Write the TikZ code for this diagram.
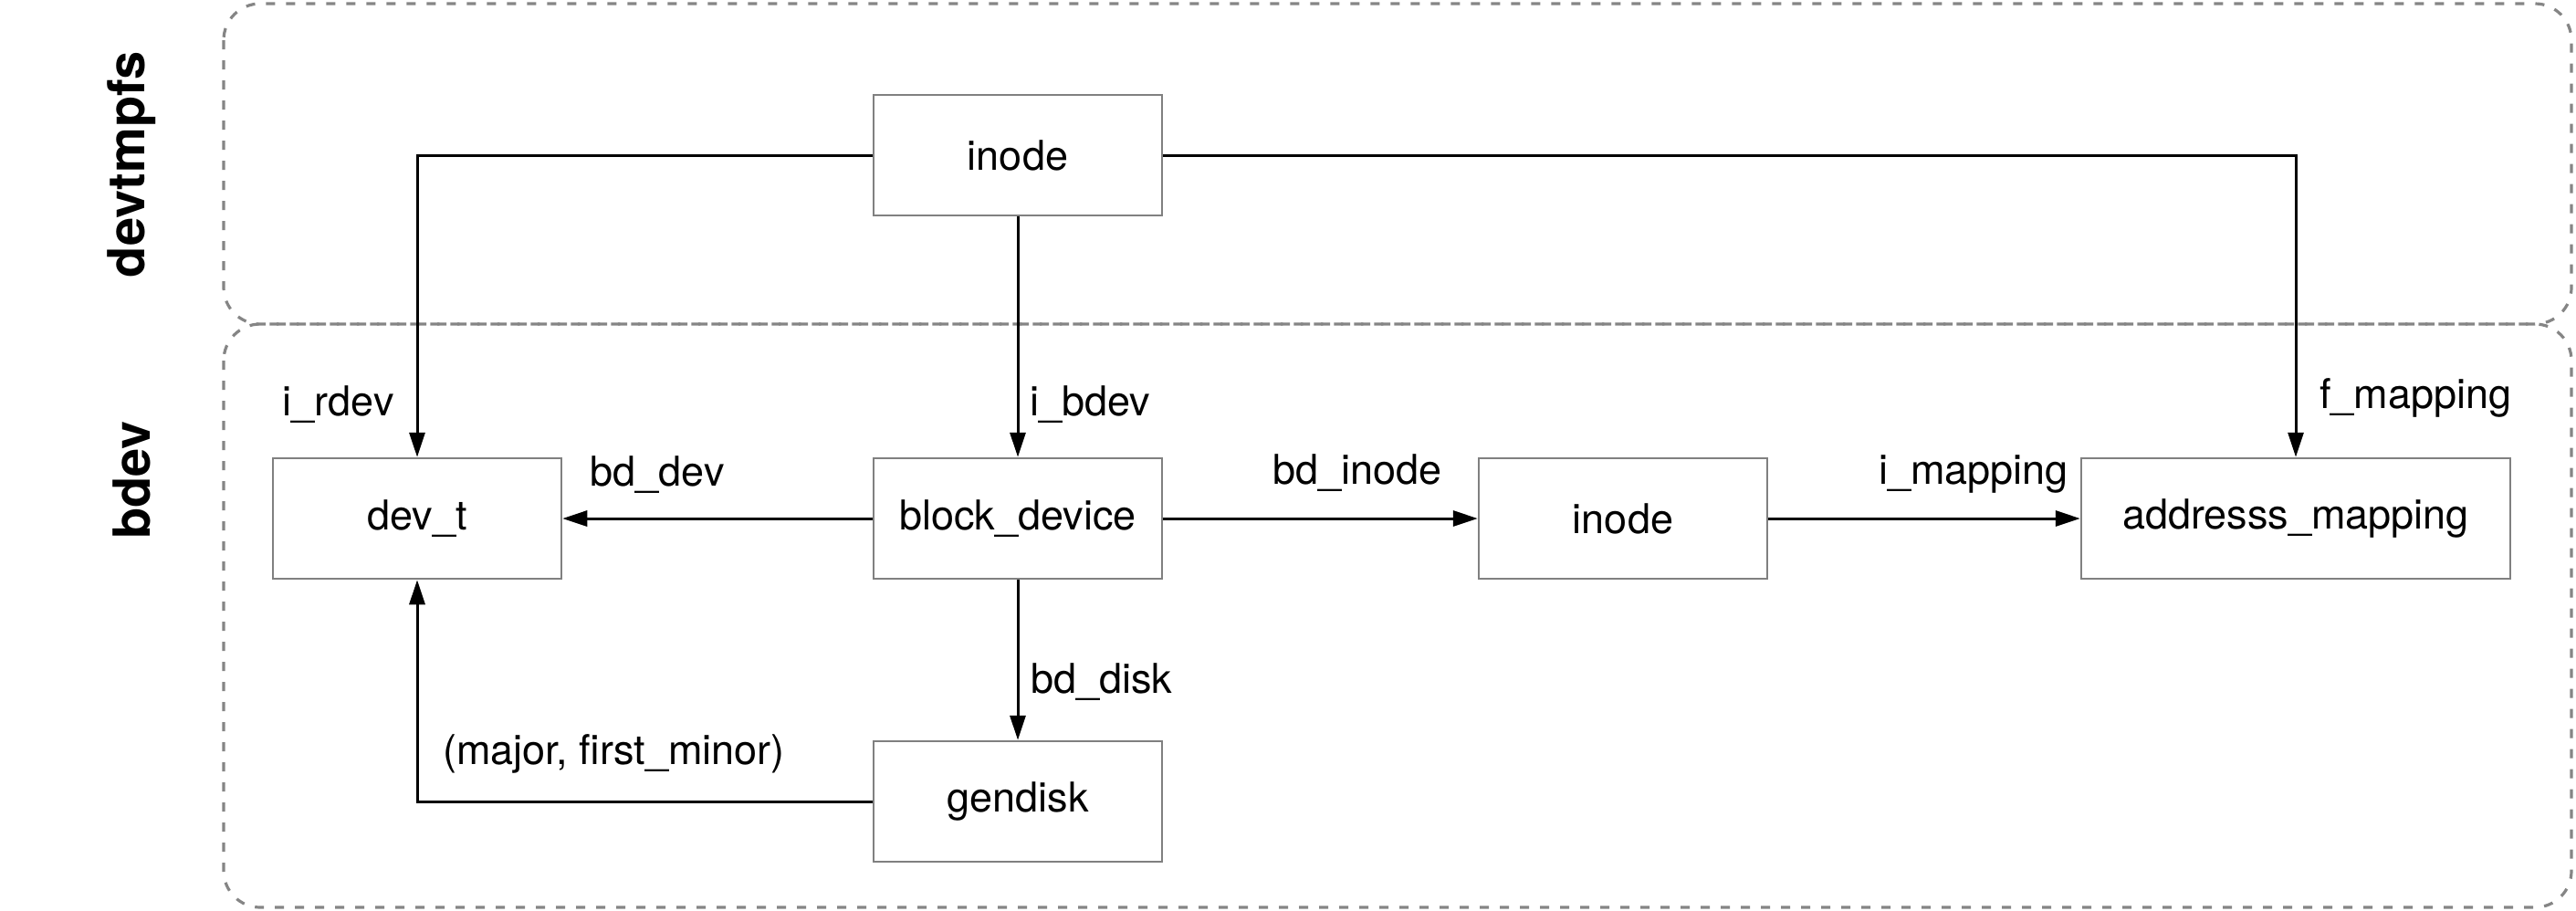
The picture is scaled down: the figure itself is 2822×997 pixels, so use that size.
\documentclass[tikz,border=0pt]{standalone}
\usepackage{fontspec}
\setmainfont{TeX Gyre Heros}
\usetikzlibrary{arrows.meta}
\definecolor{boxgray}{HTML}{808080}
\definecolor{regiongray}{HTML}{858585}
\begin{document}
\begin{tikzpicture}[x=1pt,y=-1pt,
  box/.style={draw=boxgray, line width=2.5pt, minimum width=316pt, minimum height=132pt, inner sep=0pt, font=\fontsize{45}{52}\selectfont},
  lbl/.style={inner sep=0pt, font=\fontsize{45}{52}\selectfont},
  conn/.style={line width=3pt, -{Triangle[length=27pt,width=17pt]}},
  region/.style={draw=regiongray, line width=3.2pt, dash pattern=on 10pt off 12pt, rounded corners=40pt},
  sect/.style={rotate=90, font=\fontsize{56}{62}\selectfont\bfseries, inner sep=0pt}
]
\useasboundingbox (0,0) rectangle (2822,997);

% regions
\draw[region] (245,4) rectangle (2817,355);
\draw[region] (245,355) rectangle (2817,994);
\node[sect] (sdev) at (144,180) {devtmpfs};
\node[sect] (sbdev) at (144,526) {bdev};

% boxes
\node[box] (inodetop) at (1115,170) {inode};
\node[box] (devt) at (457,568) {dev\_t};
\node[box] (bd) at (1115,568) {block\_device};
\node[box] (inode2) at (1778,568) {inode};
\node[box, minimum width=470pt] (am) at (2515,568) {addresss\_mapping};
\node[box] (gd) at (1115,878) {gendisk};

% connectors
\draw[conn] (inodetop.west) -| (devt.north);
\draw[conn] (inodetop.east) -| (am.north);
\draw[conn] (inodetop.south) -- (bd.north);
\draw[conn] (bd.west) -- (devt.east);
\draw[conn] (bd.east) -- (inode2.west);
\draw[conn] (inode2.east) -- (am.west);
\draw[conn] (bd.south) -- (gd.north);
\draw[conn] (gd.west) -| (devt.south);

% labels
\node[lbl, anchor=base east] (lirdev) at (432,455) {i\_rdev};
\node[lbl, anchor=base west] (libdev) at (1128,455) {i\_bdev};
\node[lbl, anchor=base west] (lfmap) at (2541,447) {f\_mapping};
\node[lbl, anchor=base] (lbddev) at (720,532) {bd\_dev};
\node[lbl, anchor=base] (lbdinode) at (1487,530) {bd\_inode};
\node[lbl, anchor=base] (limap) at (2162,530) {i\_mapping};
\node[lbl, anchor=base west] (lbddisk) at (1129,759) {bd\_disk};
\node[lbl, anchor=base west] (lmajor) at (485,837) {(major, first\_minor)};
\end{tikzpicture}
\end{document}
